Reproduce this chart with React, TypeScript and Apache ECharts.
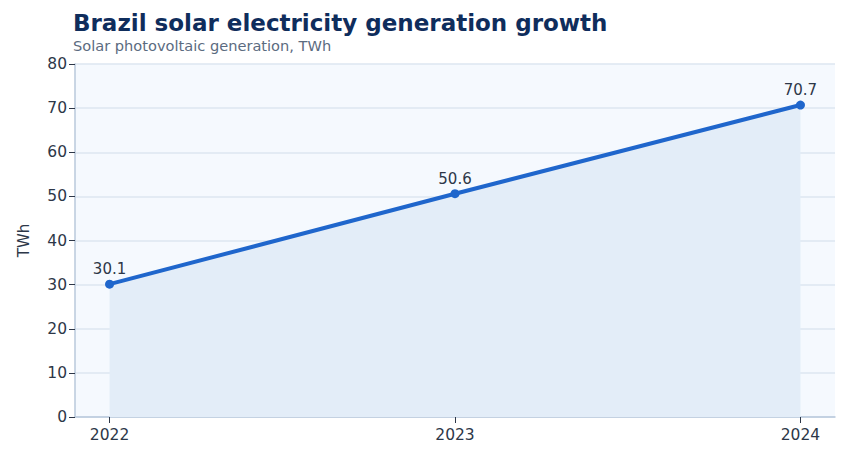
import * as echarts from 'echarts'
import { useEffect, useRef } from 'react'

const years = [2022, 2023, 2024]
const generationTWh = [30.1, 50.6, 70.7]
const yTicks = [0, 80, 10] // min, max, interval

const FONT = 'DejaVu Sans'

function App() {
  const chartRef = useRef<HTMLDivElement>(null)

  useEffect(() => {
    if (!chartRef.current) return
    const chart = echarts.init(chartRef.current, undefined, { renderer: 'svg' })

    chart.setOption({
      animation: false,
      textStyle: { fontFamily: FONT },
      title: {
        text: 'Brazil solar electricity generation growth',
        subtext: 'Solar photovoltaic generation, TWh',
        left: 60,
        top: -2,
        itemGap: 4,
        textStyle: { fontSize: 23, fontWeight: 'bold', color: '#0f2d5c', fontFamily: FONT },
        subtextStyle: { fontSize: 14.6, color: '#5b6b80', fontFamily: FONT }
      },
      grid: {
        left: 64,
        right: 6,
        top: 56,
        bottom: 35,
        show: true,
        backgroundColor: '#f5f9fe',
        borderWidth: 0
      },
      xAxis: {
        type: 'value',
        min: 2021.9,
        max: 2024.1,
        splitLine: { show: false },
        axisLine: { show: true, lineStyle: { color: '#b9c9db', width: 1.5 } },
        axisTick: { show: true, customValues: years, length: 6, lineStyle: { color: '#2d3748' } },
        axisLabel: {
          customValues: years,
          fontSize: 15.5,
          color: '#2d3748',
          margin: 10,
          formatter: (v: number) => String(Math.round(v))
        }
      },
      yAxis: {
        type: 'value',
        min: yTicks[0],
        max: yTicks[1],
        interval: yTicks[2],
        name: 'TWh',
        nameLocation: 'middle',
        nameGap: 44,
        nameTextStyle: { fontSize: 15, color: '#2d3748' },
        axisLine: { show: true, lineStyle: { color: '#b9c9db', width: 1.5 } },
        axisTick: { show: true, length: 6, lineStyle: { color: '#2d3748' } },
        axisLabel: { fontSize: 15.5, color: '#2d3748', margin: 8 },
        splitLine: { lineStyle: { color: '#dce6f1', width: 1.5 } }
      },
      series: [
        {
          type: 'line',
          data: years.map((y, i) => [y, generationTWh[i]]),
          symbol: 'circle',
          symbolSize: 9,
          lineStyle: { color: '#1f66cc', width: 4 },
          itemStyle: { color: '#1f66cc' },
          areaStyle: { color: '#e3edf8', opacity: 1 },
          label: {
            show: true,
            position: 'top',
            distance: 3,
            fontSize: 15,
            color: '#2d3748',
            formatter: (p: any) => p.value[1].toFixed(1)
          }
        }
      ]
    })

    return () => chart.dispose()
  }, [])

  return <div ref={chartRef} style={{ width: 833, height: 444 }} />
}

export default App
